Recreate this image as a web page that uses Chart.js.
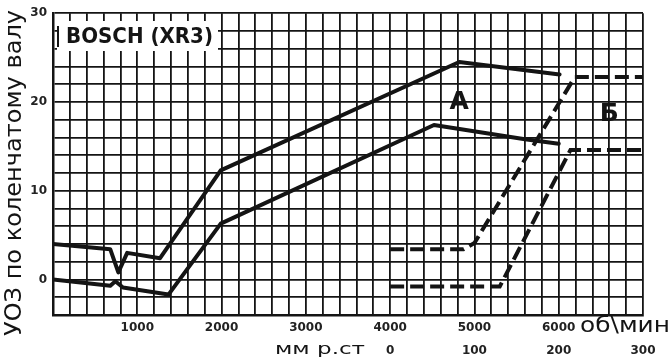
<!DOCTYPE html>
<html lang="ru">
<head>
<meta charset="utf-8">
<title>BOSCH (XR3)</title>
<script src="https://cdn.jsdelivr.net/npm/chart.js@4"></script>
<style>
  html, body { margin: 0; padding: 0; background: #fff; }
  .chart-container { position: relative; width: 670px; height: 364px; }
</style>
</head>
<body>
<div class="chart-container"><canvas id="uoz-chart"></canvas></div>
<script>
// Центробежный регулятор: кривая A (верхняя) и Б (нижняя), об/мин -> град.
const rpmA = [0, 680, 775, 880, 1270, 1990, 4820, 6010];
const uozA = [4.0, 3.4, 0.8, 3.0, 2.4, 12.3, 24.5, 23.1];
const rpmB = [0, 680, 740, 830, 1370, 1990, 4520, 5600, 6000];
const uozB = [0.0, -0.7, -0.2, -0.9, -1.7, 6.3, 17.4, 15.8, 15.3];

// Вакуумный регулятор (пунктир), мм рт. ст. -> град.
const vacA = [0, 87, 100, 219, 300];
const vacUozA = [3.4, 3.4, 4.1, 22.8, 22.8];
const vacB = [0, 130, 214, 300];
const vacUozB = [-0.8, -0.8, 14.6, 14.6];

// Подписи осей
const rpmTicks = [1000, 2000, 3000, 4000, 5000, 6000];
const mmTicks = [0, 100, 200, 300];
const uozTicks = [0, 10, 20, 30];

const INK = '#141414';

function toPoints(xs, ys) {
    return xs.map((x, i) => ({ x: x, y: ys[i] }));
}

// текст, растянутый/сжатый по ширине (как на скане)
function fitText(ctx, text, left, midY, width) {
    const w = ctx.measureText(text).width;
    ctx.save();
    ctx.translate(left, midY);
    ctx.scale(width / w, 1);
    ctx.textAlign = 'left';
    ctx.textBaseline = 'middle';
    ctx.fillText(text, 0, 0);
    ctx.restore();
}

const labelsPlugin = {
    id: 'labels',
    afterDatasetsDraw(chart) {
        const ctx = chart.ctx;
        const x = chart.scales.x;
        const y = chart.scales.y;
        ctx.save();

        // BOSCH (XR3) на белой плашке
        ctx.fillStyle = '#fff';
        ctx.fillRect(57, 21, 161, 30);
        ctx.strokeStyle = INK;
        ctx.lineWidth = 2;
        ctx.beginPath();
        ctx.moveTo(58, 26); ctx.lineTo(58, 47);
        ctx.stroke();
        ctx.fillStyle = INK;
        ctx.font = '600 22px "DejaVu Sans"';
        fitText(ctx, 'BOSCH (XR3)', 66, 37, 147);

        // буквы кривых
        ctx.font = 'bold 25px "DejaVu Sans"';
        ctx.textAlign = 'center';
        ctx.textBaseline = 'middle';
        ctx.fillText('А', x.getPixelForValue(4820), y.getPixelForValue(19.9));
        ctx.fillText('Б', x.getPixelForValue(6600), y.getPixelForValue(18.6));

        // единицы по оси X
        ctx.font = '22px "DejaVu Sans"';
        fitText(ctx, 'об\\мин', 580, 326, 90);
        ctx.font = '15px "DejaVu Sans"';
        fitText(ctx, 'мм р.ст', 275, 350, 90);

        // подпись оси Y
        ctx.font = '23px "DejaVu Sans"';
        ctx.save();
        ctx.translate(15, 173);
        ctx.rotate(-Math.PI / 2);
        fitText(ctx, 'УОЗ по коленчатому валу', -163, 0, 326);
        ctx.restore();

        ctx.restore();
    }
};

const ctx = document.getElementById('uoz-chart').getContext('2d');
const solid = { borderColor: INK, borderWidth: 4, pointRadius: 0, tension: 0, fill: false, borderCapStyle: 'round', borderJoinStyle: 'round' };
const dashed = { borderColor: INK, borderWidth: 4, pointRadius: 0, tension: 0, fill: false, borderDash: [14, 6], xAxisID: 'x2' };

new Chart(ctx, {
    type: 'line',
    data: {
        datasets: [
            Object.assign({ label: 'А', data: toPoints(rpmA, uozA) }, solid),
            Object.assign({ label: 'Б', data: toPoints(rpmB, uozB) }, solid),
            Object.assign({ label: 'А вакуум', data: toPoints(vacA, vacUozA) }, dashed),
            Object.assign({ label: 'Б вакуум', data: toPoints(vacB, vacUozB) }, dashed)
        ]
    },
    options: {
        responsive: true,
        maintainAspectRatio: false,
        animation: false,
        layout: { padding: { top: 10, right: 27, left: 0, bottom: 0 } },
        plugins: { legend: { display: false }, tooltip: { enabled: false } },
        scales: {
            x: {
                type: 'linear',
                position: 'bottom',
                min: 0, max: 7000,
                afterFit: (s) => { s.height = 25; },
                grid: { color: INK, lineWidth: 1.8, drawTicks: false },
                border: { color: INK, width: 2.5 },
                ticks: {
                    stepSize: 200, autoSkip: false, maxRotation: 0, padding: 6, maxTicksLimit: 100,
                    color: '#222', font: { family: 'DejaVu Sans', size: 12, weight: 'bold' },
                    callback: (v) => rpmTicks.includes(v) ? String(v) : ''
                }
            },
            x2: {
                type: 'linear',
                position: 'bottom',
                min: -400, max: 300,
                afterFit: (s) => { s.height = 24; },
                grid: { display: false, drawTicks: false },
                border: { display: false },
                ticks: {
                    stepSize: 100, autoSkip: false, maxRotation: 0, padding: 4,
                    color: '#222', font: { family: 'DejaVu Sans', size: 12, weight: 'bold' },
                    callback: (v) => mmTicks.includes(v) ? String(v) : ''
                }
            },
            y: {
                min: -4, max: 30,
                afterFit: (s) => { s.width = 53; },
                grid: { color: INK, lineWidth: 1.8, drawTicks: false },
                border: { color: INK, width: 2.5 },
                ticks: {
                    stepSize: 2, autoSkip: false, padding: 6, maxTicksLimit: 100,
                    color: '#222', font: { family: 'DejaVu Sans', size: 12, weight: 'bold' },
                    callback: (v) => uozTicks.includes(v) ? String(v) : ''
                }
            }
        }
    },
    plugins: [labelsPlugin]
});
</script>
</body>
</html>
